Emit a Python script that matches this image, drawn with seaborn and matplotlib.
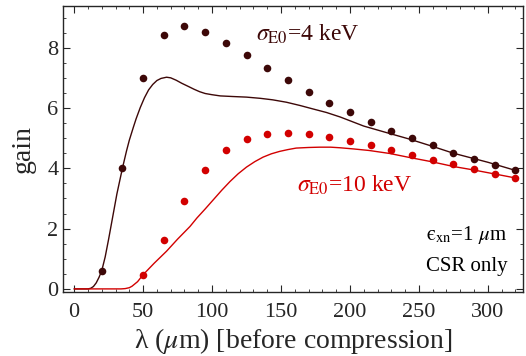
import numpy as np
import pandas as pd
import matplotlib
matplotlib.use("Agg")
import matplotlib.pyplot as plt
import seaborn as sns
from matplotlib.ticker import MultipleLocator

# simulated gain (dots), sampled every 15 um
lam_4kev = [20, 35, 50, 65, 80, 95, 110, 125, 140, 155, 170, 185, 200, 215, 230, 245, 260, 275, 290, 305, 320]
gain_4kev = [0.6, 4.0, 7.0, 8.43, 8.72, 8.52, 8.17, 7.75, 7.33, 6.92, 6.54, 6.18, 5.85, 5.54, 5.25, 5.0, 4.76, 4.51, 4.31, 4.12, 3.93]

lam_10kev = [50, 65, 80, 95, 110, 125, 140, 155, 170, 185, 200, 215, 230, 245, 260, 275, 290, 305, 320]
gain_10kev = [0.46, 1.62, 2.91, 3.94, 4.6, 4.98, 5.14, 5.18, 5.13, 5.04, 4.9, 4.77, 4.61, 4.45, 4.28, 4.13, 3.97, 3.82, 3.67]

# theory curves
lam_th_4 = [0, 10, 12, 14, 16, 18, 20, 22.5, 25, 28, 31, 35, 38, 40, 43, 45, 48, 51, 54, 57, 60, 63, 67, 70, 74, 78, 83, 87, 91, 95,
            100, 106, 115, 125, 135, 144, 154, 164, 173, 183, 193, 210, 226, 243, 259, 275, 300, 320]
gain_th_4 = [0, 0, 0.02, 0.08, 0.2, 0.38, 0.6, 1.06, 1.65, 2.4, 3.15, 4.0, 4.58, 4.93, 5.37, 5.65, 6.02, 6.34, 6.6, 6.78, 6.91, 6.98, 7.02, 7.0, 6.92, 6.82, 6.71, 6.62, 6.54, 6.48,
             6.44, 6.4, 6.38, 6.36, 6.32, 6.27, 6.19, 6.08, 5.97, 5.85, 5.7, 5.4, 5.19, 4.97, 4.74, 4.5, 4.2, 3.93]

lam_th_10 = [0, 34, 37, 40, 42, 46, 50, 58, 67, 75, 84, 89, 95, 101, 107, 113, 119, 125, 131, 137, 143, 149, 155, 161, 170, 178, 186,
             193, 203, 214, 229, 243, 259, 275, 289, 304, 320]
gain_th_10 = [0, 0, 0.01, 0.04, 0.09, 0.24, 0.47, 0.85, 1.25, 1.65, 2.07, 2.35, 2.65, 2.96, 3.27, 3.56, 3.82, 4.04, 4.22, 4.37, 4.48, 4.56, 4.62, 4.67, 4.69, 4.7, 4.7,
              4.68, 4.64, 4.59, 4.49, 4.36, 4.22, 4.06, 3.95, 3.82, 3.68]

DARK = "#3d0808"
RED = "#d20000"

sns.set_style("ticks")
plt.rcParams.update({
    "font.family": ["Liberation Serif", "DejaVu Serif"],
    "mathtext.fontset": "stix",
    "xtick.direction": "in",
    "ytick.direction": "in",
    "xtick.top": True,
    "ytick.right": True,
})

fig = plt.figure(figsize=(5.26, 3.56), dpi=100)
ax = fig.add_axes([0.12, 0.18, 0.874, 0.803])

sns.lineplot(x=lam_th_4, y=gain_th_4, ax=ax, color=DARK, lw=1.0, estimator=None, sort=False)
sns.lineplot(x=lam_th_10, y=gain_th_10, ax=ax, color=RED, lw=1.0, estimator=None, sort=False)
sns.scatterplot(x=lam_4kev, y=gain_4kev, ax=ax, color=DARK, s=30, linewidth=0, zorder=3)
sns.scatterplot(x=lam_10kev, y=gain_10kev, ax=ax, color=RED, s=30, linewidth=0, zorder=3)

ax.set_xlim(-8, 325.4)
ax.set_ylim(-0.1, 9.38)
ax.xaxis.set_major_locator(MultipleLocator(50))
ax.xaxis.set_minor_locator(MultipleLocator(10))
ax.yaxis.set_major_locator(MultipleLocator(2))
ax.yaxis.set_minor_locator(MultipleLocator(0.5))
ax.tick_params(which="major", length=5, width=0.8, labelsize=16)
ax.tick_params(axis="x", which="major", pad=8)
ax.tick_params(which="minor", length=2.5, width=0.6)
for s in ax.spines.values():
    s.set_linewidth(1.0)

ax.set_xlabel(r"λ ($\mu$m) [before compression]", fontsize=20, labelpad=3)
ax.set_ylabel("gain", fontsize=20, labelpad=8)

ax.text(0.42, 0.90, r"$\sigma_{\rm E0}$=4 keV", transform=ax.transAxes, color=DARK, fontsize=17, va="center")
ax.text(0.508, 0.374, r"$\sigma_{\rm E0}$=10 keV", transform=ax.transAxes, color=RED, fontsize=17, va="center")
ax.text(0.967, 0.2, r"$\mathrm{ϵ}_{\rm xn}$=1 $\mu$m", transform=ax.transAxes, color="black", fontsize=15, ha="right", va="center")
ax.text(0.967, 0.088, "CSR only", transform=ax.transAxes, color="black", fontsize=15, ha="right", va="center")

fig.savefig("out.png", dpi=100)
